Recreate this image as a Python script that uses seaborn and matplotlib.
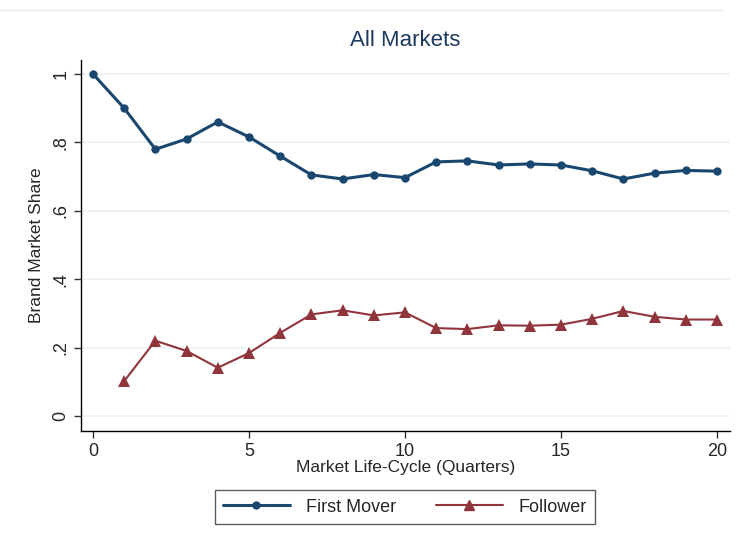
import numpy as np
import pandas as pd
import seaborn as sns
import matplotlib
matplotlib.use("Agg")
import matplotlib.pyplot as plt
from matplotlib.lines import Line2D

quarters = list(range(21))
first_mover = [1.000, 0.900, 0.780, 0.810, 0.860, 0.816, 0.760, 0.705, 0.693, 0.706,
               0.697, 0.743, 0.746, 0.734, 0.737, 0.734, 0.717, 0.693, 0.710, 0.718, 0.716]
follower_q = list(range(1, 21))
follower = [0.102, 0.220, 0.190, 0.141, 0.184, 0.243, 0.297, 0.309, 0.294, 0.303,
            0.257, 0.254, 0.265, 0.264, 0.267, 0.284, 0.307, 0.290, 0.282, 0.282]
yticks = [0, 0.2, 0.4, 0.6, 0.8, 1.0]
ytick_labels = ["0", ".2", ".4", ".6", ".8", "1"]
xticks = [0, 5, 10, 15, 20]

c1 = "#1a476f"
c2 = "#90353b"

df = pd.concat([
    pd.DataFrame({"q": quarters, "share": first_mover, "brand": "First Mover"}),
    pd.DataFrame({"q": follower_q, "share": follower, "brand": "Follower"}),
])

sns.set_style("white")
plt.rcParams["font.family"] = ["Liberation Sans", "DejaVu Sans"]

fig = plt.figure(figsize=(7.37, 5.42), dpi=100)
ax = fig.add_axes([81/737, 1-431/542, (730-81)/737, (431-60)/542])

sns.lineplot(data=df[df.brand == "First Mover"], x="q", y="share", ax=ax, color=c1,
             marker="o", markersize=6, markeredgewidth=0, linewidth=2.2, legend=False)
sns.lineplot(data=df[df.brand == "Follower"], x="q", y="share", ax=ax, color=c2,
             marker="^", markersize=8, markeredgewidth=0, linewidth=1.5, legend=False)

ax.set_xlim(-0.385, 20.42)
ax.set_ylim(-0.044, 1.041)
ax.set_yticks(yticks)
ax.set_yticklabels(ytick_labels, rotation=90, va="center")
ax.set_xticks(xticks)
ax.tick_params(axis="both", labelsize=13, length=5, width=1, color="#333333",
               direction="out", left=True, bottom=True)
ax.yaxis.grid(True, color="#eaf2f3", linewidth=1.2)
ax.set_axisbelow(True)
for s in ["top", "right"]:
    ax.spines[s].set_visible(False)
for s in ["left", "bottom"]:
    ax.spines[s].set_color("black")
    ax.spines[s].set_linewidth(1)

ax.set_xlabel("Market Life-Cycle (Quarters)", fontsize=12.5, labelpad=0)
ax.set_ylabel("Brand Market Share", fontsize=12.5, labelpad=6)
ax.set_title("All Markets", fontsize=16, color="#1e3a5f", pad=10)

handles = [Line2D([0], [0], color=c1, marker="o", markersize=5, linewidth=2.2),
           Line2D([0], [0], color=c2, marker="^", markersize=7, linewidth=1.5)]
leg = fig.legend(handles, ["First Mover", "Follower"], loc="center",
                 bbox_to_anchor=(405/737, 1-507/542), ncol=2, fontsize=13,
                 frameon=True, fancybox=False, edgecolor="#333333",
                 handlelength=3.7, columnspacing=2.2, borderpad=0.45, handletextpad=0.9)
leg.get_frame().set_linewidth(1)

fig.add_artist(Line2D([0.0, 0.98], [1-10/542, 1-10/542], color="#eaeaea", linewidth=1))

fig.savefig("out.png", dpi=100, facecolor="white")
